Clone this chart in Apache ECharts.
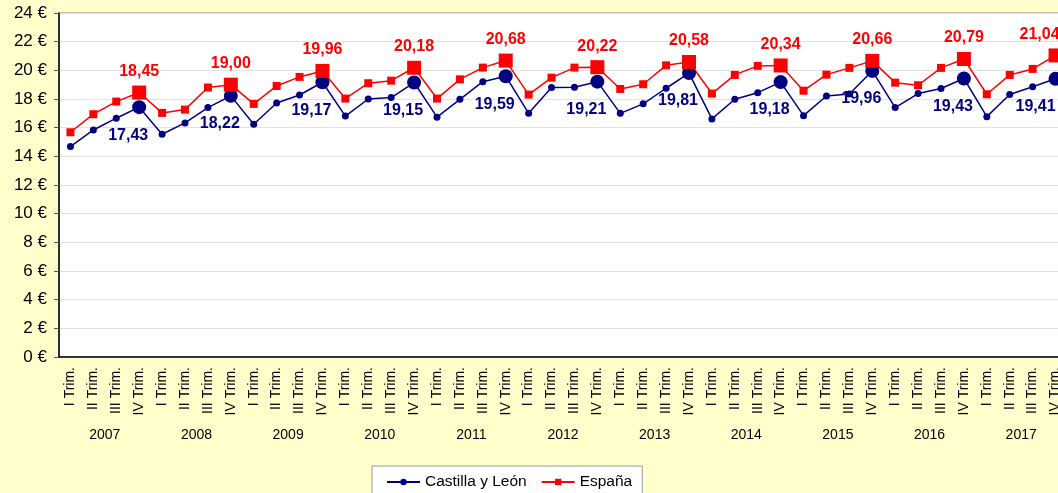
<!DOCTYPE html>
<html>
<head>
<meta charset="utf-8">
<script src="https://cdn.jsdelivr.net/npm/echarts@6/dist/echarts.min.js"></script>
<style>
  html, body { margin: 0; padding: 0; background: #FFFFCC; overflow: hidden; }
  #chart { width: 1067px; height: 493px; }
</style>
</head>
<body>
<div id="chart"></div>
<script>
// data
const years = ['2007', '2008', '2009', '2010', '2011', '2012', '2013', '2014', '2015', '2016', '2017'];
const trims = ['I Trim.', 'II Trim.', 'III Trim.', 'IV Trim.'];
const yTicks = [0, 2, 4, 6, 8, 10, 12, 14, 16, 18, 20, 22, 24];

const castilla = [
    14.68, 15.84, 16.66, 17.43,
    15.54, 16.33, 17.40, 18.22,
    16.24, 17.72, 18.28, 19.17,
    16.81, 18.00, 18.10, 19.15,
    16.73, 17.98, 19.21, 19.59,
    17.00, 18.80, 18.82, 19.21,
    17.00, 17.66, 18.75, 19.81,
    16.61, 17.98, 18.44, 19.18,
    16.84, 18.21, 18.35, 19.96,
    17.40, 18.38, 18.73, 19.43,
    16.77, 18.31, 18.86, 19.41
];
const espana = [
    15.68, 16.94, 17.82, 18.45,
    17.03, 17.26, 18.80, 19.00,
    17.66, 18.91, 19.54, 19.96,
    18.03, 19.10, 19.28, 20.18,
    18.03, 19.37, 20.19, 20.68,
    18.31, 19.49, 20.19, 20.22,
    18.70, 19.03, 20.35, 20.58,
    18.38, 19.68, 20.31, 20.34,
    18.58, 19.70, 20.17, 20.66,
    19.14, 18.96, 20.17, 20.79,
    18.33, 19.68, 20.10, 21.04
];

const categories = [];
years.forEach(y => trims.forEach(t => categories.push(t)));

const fmt = p => p.value.toFixed(2).replace('.', ',');

// IV Trim. points get a big marker and a label; the last label is pushed left like in Excel
const markLast = (values, labelOpts, lastShift) => values.map((v, i) => {
    if (i % 4 !== 3) return v;
    const label = Object.assign({ show: true }, labelOpts);
    if (i === values.length - 1) label.offset = [lastShift, 0];
    return { value: v, symbolSize: 14, label: label };
});

const chart = echarts.init(document.getElementById('chart'));
const font = 'Arial, "Liberation Sans", sans-serif';

const option = {
    backgroundColor: '#FFFFCC',
    animation: false,
    textStyle: { fontFamily: font },
    grid: {
        left: 59, top: 13, right: 0, bottom: 136,
        show: true, backgroundColor: '#ffffff', borderColor: '#808080', borderWidth: 1
    },
    legend: {
        left: 372, top: 466,
        padding: [8, 10, 8, 14],
        itemWidth: 33, itemHeight: 8, itemGap: 14,
        backgroundColor: '#ffffff', borderColor: '#999999', borderWidth: 1,
        textStyle: { fontSize: 15.5, color: '#000', fontFamily: font },
        data: ['Castilla y León', 'España']
    },
    xAxis: [
        {
            type: 'category',
            data: categories,
            position: 'bottom',
            axisLine: { lineStyle: { color: '#000', width: 1.5 } },
            axisTick: { interval: 0, length: 60, lineStyle: { color: '#9a9a80' } },
            axisLabel: { interval: 0, rotate: 90, margin: 10, fontSize: 14, color: '#000', fontFamily: font },
            splitLine: { show: false }
        },
        {
            type: 'category',
            data: years,
            position: 'bottom',
            axisLine: { show: false },
            axisTick: { interval: 0, length: 86, lineStyle: { color: '#9a9a80' } },
            axisLabel: { interval: 0, margin: 71, fontSize: 14, color: '#000', fontFamily: font },
            splitLine: { show: false }
        }
    ],
    yAxis: {
        type: 'value',
        min: yTicks[0], max: yTicks[yTicks.length - 1], interval: 2,
        axisLine: { show: true, lineStyle: { color: '#000', width: 1.5 } },
        axisTick: { show: true, length: 5, lineStyle: { color: '#555' } },
        axisLabel: { formatter: '{value} €', fontSize: 17, margin: 12, color: '#000', fontFamily: font },
        splitLine: { lineStyle: { color: '#e2e2e2' } }
    },
    series: [
        {
            name: 'Castilla y León',
            type: 'line',
            data: markLast(castilla, {
                position: 'bottom', distance: 13, offset: [-11, 0],
                formatter: fmt, color: '#000080', fontSize: 16, fontWeight: 'bold', fontFamily: font
            }, -20),
            symbol: 'circle', symbolSize: 7,
            itemStyle: { color: '#000080' },
            lineStyle: { color: '#000080', width: 1.5 },
            label: { show: false }
        },
        {
            name: 'España',
            type: 'line',
            data: markLast(espana, {
                position: 'top', distance: 6,
                formatter: fmt, color: '#FF0000', fontSize: 16, fontWeight: 'bold', fontFamily: font
            }, -16),
            symbol: 'rect', symbolSize: 8,
            itemStyle: { color: '#FF0000' },
            lineStyle: { color: '#FF0000', width: 1.5 },
            label: { show: false }
        }
    ]
};

chart.setOption(option);
</script>
</body>
</html>
